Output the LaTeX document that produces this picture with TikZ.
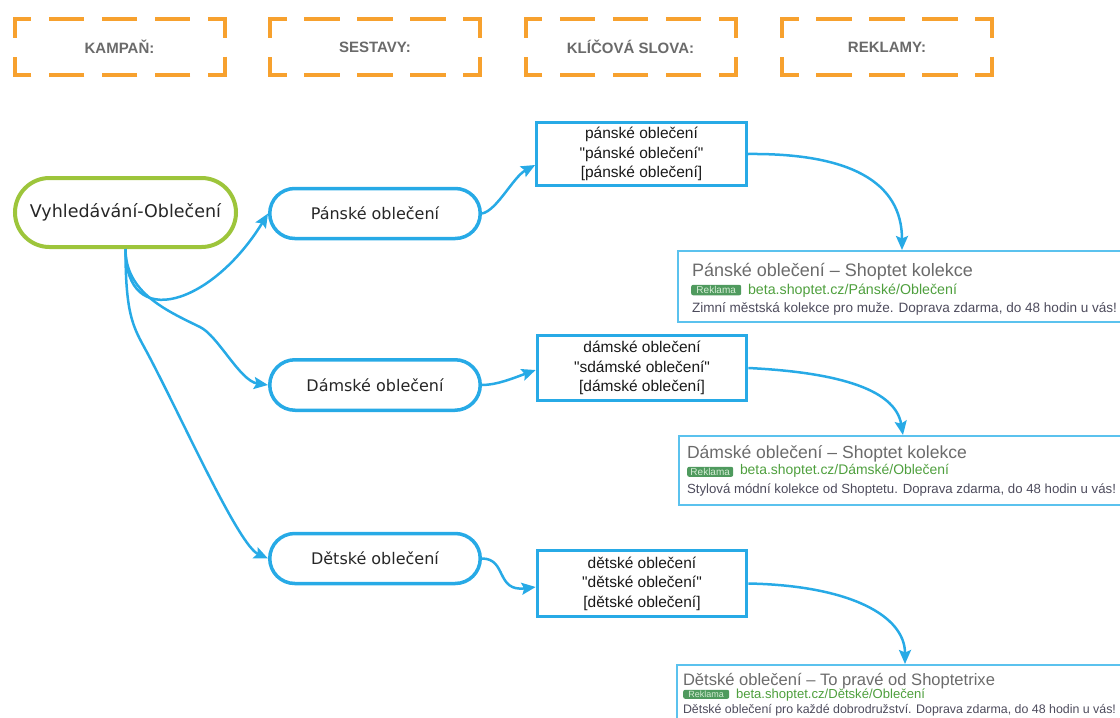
\documentclass[tikz,border=0pt]{standalone}
\usepackage{fontspec}
\setmainfont{Liberation Sans}
\newfontfamily\dvsans{DejaVu Sans}
\usetikzlibrary{shapes.misc,arrows.meta,calc}
\definecolor{orng}{HTML}{F7A12E}
\definecolor{headgray}{HTML}{6A6A6A}
\definecolor{rootgreen}{HTML}{9DC53B}
\definecolor{blu}{HTML}{27AAE6}
\definecolor{adblu}{HTML}{5BC2EE}
\definecolor{adtitle}{HTML}{6B6B6B}
\definecolor{adurl}{HTML}{4E9F3D}
\definecolor{addesc}{HTML}{4D4B5C}
\definecolor{badgefill}{HTML}{4F9A5E}
\definecolor{badgetext}{HTML}{D4ECD4}
\newcommand\fitw[2]{\resizebox{#1}{!}{#2}}
\newcommand\qd{\textquotedbl}
\tikzset{
  headbox/.style={minimum width=210pt, minimum height=56pt, inner sep=0pt, outer sep=0pt,
    font=\bfseries\fontsize{15}{18}\selectfont, text=headgray},
  dashedge/.style={draw=orng, line width=4pt, line join=miter,
    dash pattern=on 35.25pt off 17.5pt on 35.5pt off 17.5pt on 35.5pt off 17.5pt on 35.5pt off 17.5pt on 35.25pt off 19pt,
    dash phase=256.5pt},
  rootnode/.style={rounded rectangle, draw=rootgreen, line width=4pt, minimum width=221pt,
    minimum height=69pt, inner sep=0pt, font=\dvsans\fontsize{17.5}{20}\selectfont, text=black!85},
  stad/.style={rounded rectangle, draw=blu, line width=3.5pt, minimum width=210.5pt,
    minimum height=50pt, inner sep=0pt, font=\dvsans\fontsize{16}{19}\selectfont, text=black!85},
  kwbox/.style={rectangle, draw=blu, line width=3.2pt, minimum width=209.5pt, inner sep=0pt,
    align=center, font=\fontsize{15.5}{19.5}\selectfont, text=black!90},
  adbox/.style={rectangle, draw=adblu, line width=2pt, anchor=north west, inner sep=0pt, minimum width=460pt},
  adtxt/.style={anchor=base west, inner sep=0pt, outer sep=0pt},
  badge/.style={anchor=south west, fill=badgefill, rounded corners=2pt, inner sep=0pt,
    text=badgetext, font=\fontsize{10}{10}\selectfont},
  conn/.style={draw=blu, line width=2.5pt, -{Stealth[length=14pt,width=12pt,inset=2.5pt]}}
}
\begin{document}
\begin{tikzpicture}[x=1pt,y=-1pt]
\useasboundingbox (0,0) rectangle (1120,718);
\clip (0,0) rectangle (1120,718);

% header dashed boxes
\foreach \nm/\cx/\txt in {h1/119.5/KAMPAŇ:, h2/375/SESTAVY:, h3/630.5/KLÍČOVÁ SLOVA:, h4/887/REKLAMY:}{
  \node[headbox] (\nm) at (\cx,47) {\txt};
  \draw[dashedge] (\nm.west) -- (\nm.north west) -- (\nm.north east) -- (\nm.south east) -- (\nm.south west) -- cycle;
}

% main nodes
\node[rootnode] (root) at (125.5,212.5) {Vyhledávání-Oblečení};
\node[stad] (pans) at (375,213.5) {Pánské oblečení};
\node[stad, minimum height=50.5pt] (dams) at (375,385) {Dámské oblečení};
\node[stad] (dets) at (375,558.5) {Dětské oblečení};

\node[kwbox, minimum height=62.5pt] (kw1) at (641.5,154) {pánské oblečení\\\qd pánské oblečení\qd\\{[}pánské oblečení{]}};
\node[kwbox, minimum height=64.5pt] (kw2) at (642,368) {dámské oblečení\\\qd sdámské oblečení\qd\\{[}dámské oblečení{]}};
\node[kwbox, minimum height=65.5pt] (kw3) at (642,583.5) {dětské oblečení\\\qd dětské oblečení\qd\\{[}dětské oblečení{]}};

% ad boxes
\node[adbox, minimum height=71pt] (ad1) at (677,250) {};
\node[adbox, minimum height=69pt] (ad2) at (678,435) {};
\node[adbox, minimum height=80pt] (ad3) at (676,664) {};

% ad 1 texts
\node[adtxt, text=adtitle] (t1) at (692,276) {\fitw{281pt}{\fontsize{18}{20}\selectfont Pánské oblečení – Shoptet kolekce}};
\node[badge, minimum width=50pt, minimum height=10.5pt] (b1) at (691,295.5) {Reklama};
\node[adtxt, text=adurl] (u1) at (748,294) {\fitw{209pt}{\fontsize{14}{16}\selectfont beta.shoptet.cz/Pánské/Oblečení}};
\node[adtxt, text=addesc] (d1) at (692,312.5) {\fitw{425pt}{\fontsize{13.5}{16}\selectfont Zimní městská kolekce pro muže. Doprava zdarma, do 48 hodin u vás!}};

% ad 2 texts
\node[adtxt, text=adtitle] (t2) at (687,458) {\fitw{280pt}{\fontsize{17.5}{20}\selectfont Dámské oblečení – Shoptet kolekce}};
\node[badge, minimum width=46pt, minimum height=10pt] (b2) at (687,477) {Reklama};
\node[adtxt, text=adurl] (u2) at (740,474) {\fitw{209pt}{\fontsize{14}{16}\selectfont beta.shoptet.cz/Dámské/Oblečení}};
\node[adtxt, text=addesc] (d2) at (687,493) {\fitw{429pt}{\fontsize{13.5}{16}\selectfont Stylová módní kolekce od Shoptetu. Doprava zdarma, do 48 hodin u vás!}};

% ad 3 texts
\node[adtxt, text=adtitle] (t3) at (683,685) {\fitw{312pt}{\fontsize{16.5}{19}\selectfont Dětské oblečení – To pravé od Shoptetrixe}};
\node[badge, minimum width=46pt, minimum height=9pt, font=\fontsize{9}{9}\selectfont] (b3) at (683,699) {Reklama};
\node[adtxt, text=adurl] (u3) at (736,698) {\fitw{189pt}{\fontsize{13}{15}\selectfont beta.shoptet.cz/Dětské/Oblečení}};
\node[adtxt, text=addesc] (d3) at (683,713) {\fitw{433pt}{\fontsize{12.5}{15}\selectfont Dětské oblečení pro každé dobrodružství. Doprava zdarma, do 48 hodin u vás!}};

% connectors from root
\draw[conn] (root.south) .. controls +(0,85) and +(-55,90) .. (pans.west);
\draw[conn] (root.south) .. controls +(0,43) and +(-35,-17) .. (200,327)
  .. controls +(18,8.7) and +(-28,-4) .. (dams.west);
\draw[conn] (root.south) .. controls +(0,73) and +(-15,-29) .. (150,358)
  .. controls +(35,67) and +(-29,-13) .. (dets.west);

% sestavy -> keywords
\draw[conn] (pans.east) .. controls +(15,-3) and +(-22,12) .. ([yshift=-11pt]kw1.west);
\draw[conn] (dams.east) .. controls +(15,0) and +(-22,8) .. ([yshift=-2pt]kw2.west);
\draw[conn] (dets.east) .. controls +(25,0) and +(-40,5) .. ([yshift=-3.5pt]kw3.west);

% keywords -> ads
\draw[conn] (kw1.east) .. controls +(102,-1) and +(0,-68) .. ([xshift=225pt]ad1.north west);
\draw[conn] (kw2.east) .. controls +(82,4) and +(-8,-48) .. ([xshift=225pt]ad2.north west);
\draw[conn] (kw3.east) .. controls +(102,2) and +(0,-48) .. ([xshift=229pt]ad3.north west);
\end{tikzpicture}
\end{document}
